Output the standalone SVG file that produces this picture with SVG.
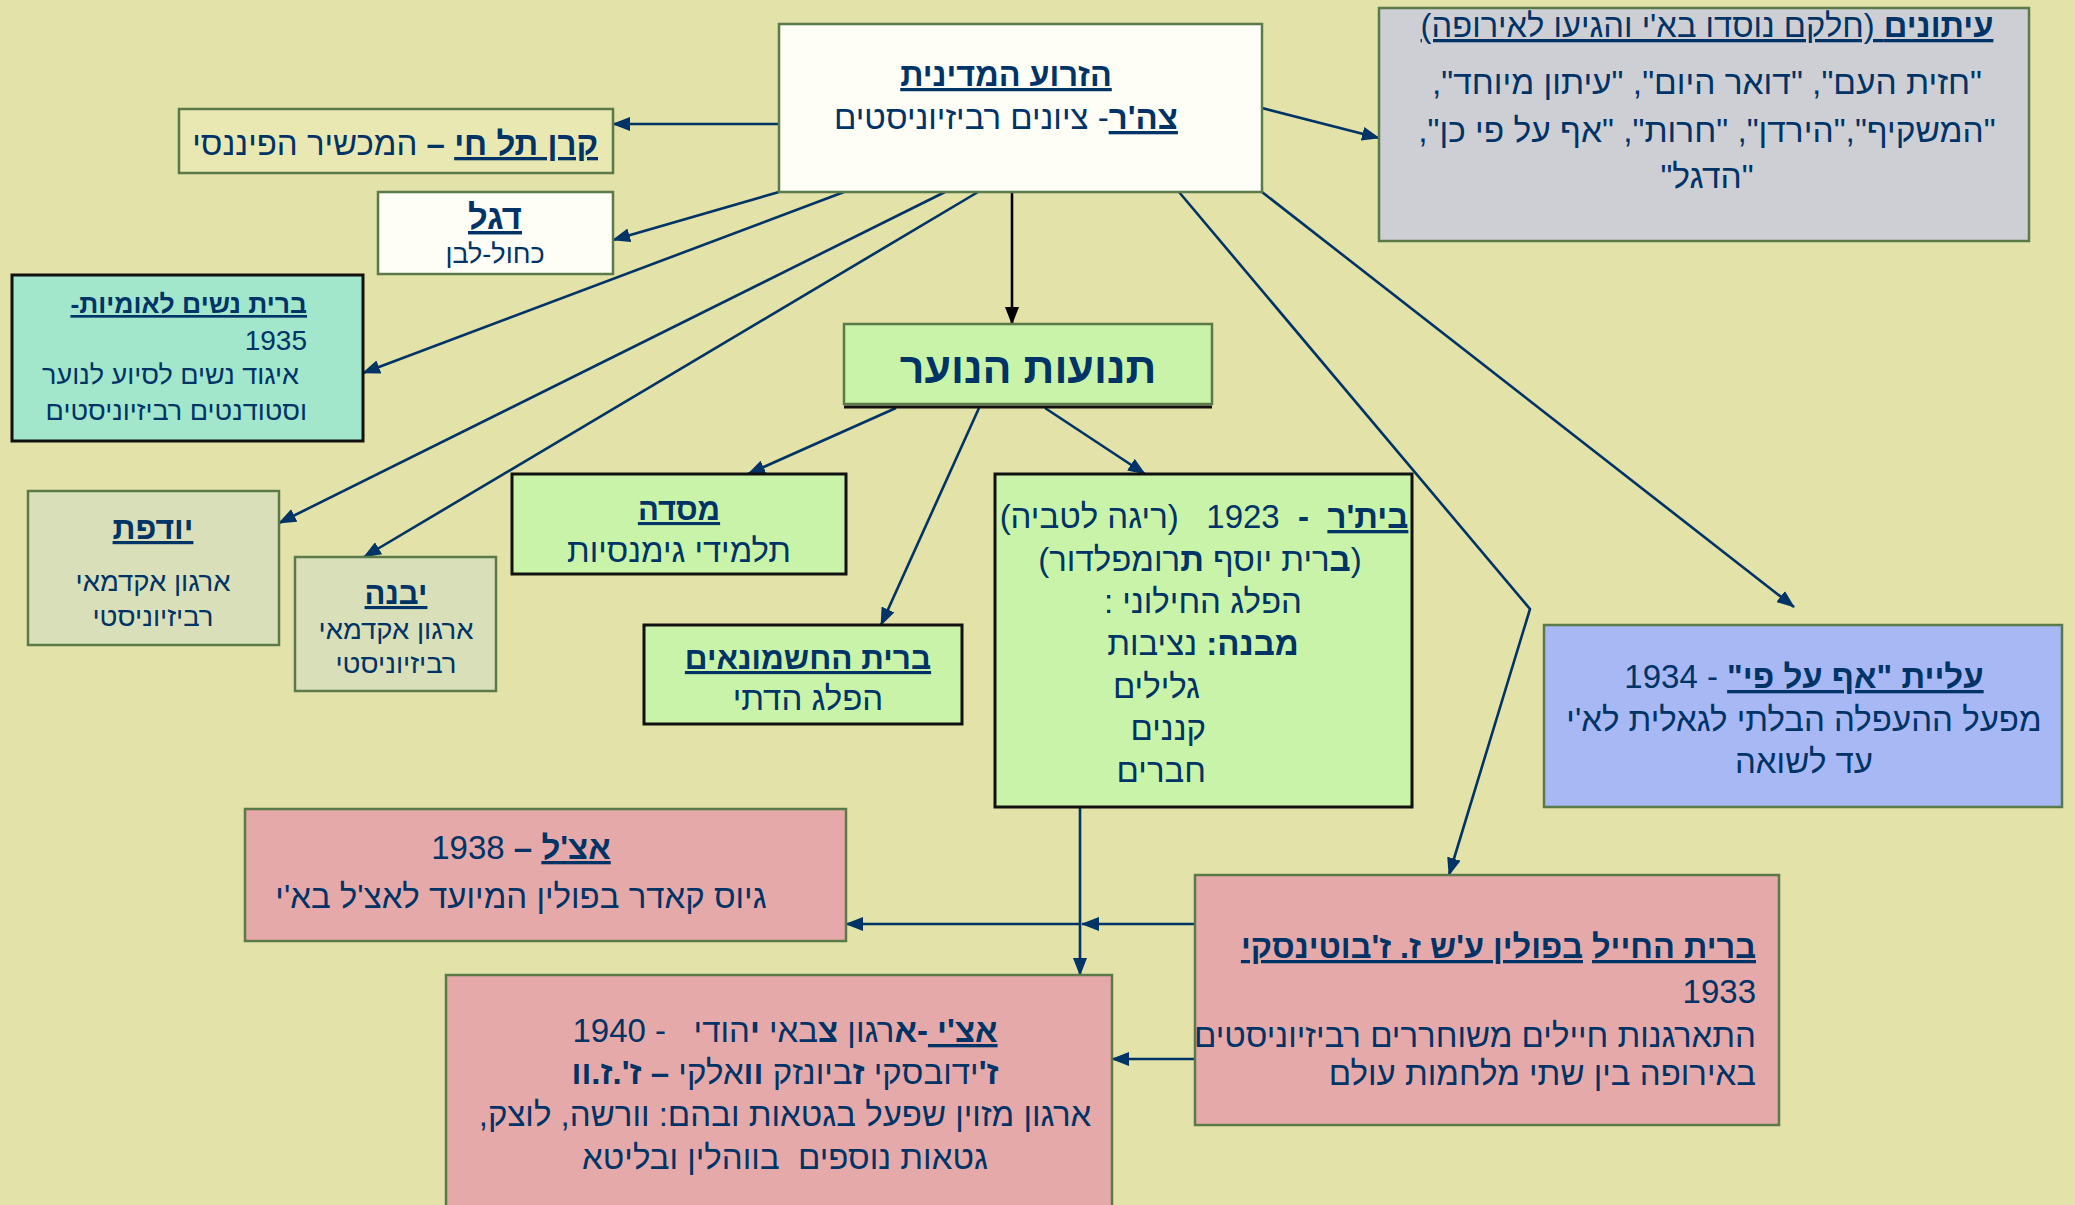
<svg xmlns="http://www.w3.org/2000/svg" width="2075" height="1205" viewBox="0 0 2075 1205">
<style>
text{font-family:"Liberation Sans","DejaVu Sans",sans-serif;fill:#003366;direction:rtl;font-size:33px}
.c{text-anchor:middle}
.r{text-anchor:start}
.b{font-weight:bold}
.u{text-decoration:underline}
.bu{font-weight:bold;text-decoration:underline}
.g{stroke:#5a7a4a;stroke-width:2.5}
.k{stroke:#111;stroke-width:3}
.ln{fill:none;stroke:#003366;stroke-width:2.6}
</style>
<defs>
<marker id="a" viewBox="0 0 18 14" refX="17" refY="7" markerWidth="18" markerHeight="14" orient="auto" markerUnits="userSpaceOnUse"><path d="M0,0 L18,7 L0,14 z" fill="#003366"/></marker>
<marker id="ak" viewBox="0 0 18 14" refX="17" refY="7" markerWidth="18" markerHeight="14" orient="auto" markerUnits="userSpaceOnUse"><path d="M0,0 L18,7 L0,14 z" fill="#000"/></marker>
</defs>
<rect width="2075" height="1205" fill="#e3e2a8"/>

<g id="connectors">
<line class="ln" x1="779" y1="124" x2="613" y2="124" marker-end="url(#a)"/>
<line class="ln" x1="779" y1="192" x2="613" y2="240" marker-end="url(#a)"/>
<line class="ln" x1="844" y1="192" x2="363" y2="373" marker-end="url(#a)"/>
<line class="ln" x1="945" y1="192" x2="279" y2="523" marker-end="url(#a)"/>
<line class="ln" x1="978" y1="192" x2="364" y2="557" marker-end="url(#a)"/>
<line x1="1012" y1="192" x2="1012" y2="324" stroke="#000" stroke-width="2.6" marker-end="url(#ak)"/>
<line class="ln" x1="1262" y1="108" x2="1379" y2="138" marker-end="url(#a)"/>
<line class="ln" x1="1262" y1="192" x2="1794" y2="607" marker-end="url(#a)"/>
<polyline class="ln" points="1179,192 1530,609 1449,875" marker-end="url(#a)"/>
<line class="ln" x1="896" y1="408" x2="748" y2="474" marker-end="url(#a)"/>
<line class="ln" x1="979" y1="408" x2="881" y2="625" marker-end="url(#a)"/>
<line class="ln" x1="1045" y1="408" x2="1145" y2="474" marker-end="url(#a)"/>
<line class="ln" x1="1080" y1="807" x2="1080" y2="975" marker-end="url(#a)"/>
<line class="ln" x1="1195" y1="924" x2="1082" y2="924" marker-end="url(#a)"/>
<line class="ln" x1="1080" y1="924" x2="846" y2="924" marker-end="url(#a)"/>
<line class="ln" x1="1195" y1="1059" x2="1112" y2="1059" marker-end="url(#a)"/>
</g>

<g id="n-zroa">
<rect class="g" x="779" y="24" width="483" height="168" fill="#fefef6"/>
<text class="c" x="1006" y="86" style="font-size:32.4px"><tspan class="bu">הזרוע המדינית</tspan></text>
<text class="c" x="1006" y="129"><tspan class="bu">צה'ר</tspan>- ציונים רביזיוניסטים</text>
</g>

<g id="n-itonim">
<rect class="g" x="1379" y="8" width="650" height="233" fill="#cdcfd4"/>
<text class="c u" x="1707" y="37" style="font-size:32.7px"><tspan class="b">עיתונים</tspan> (חלקם נוסדו בא'י והגיעו לאירופה)</text>
<text class="c" x="1707" y="94" style="font-size:33.5px">"חזית העם", "דואר היום", "עיתון מיוחד",</text>
<text class="c" x="1707" y="142" style="font-size:33.5px">"המשקיף","הירדן", "חרות", "אף על פי כן",</text>
<text class="c" x="1707" y="188" style="font-size:33.5px">"הדגל"</text>
</g>

<g id="n-keren">
<rect class="g" x="179" y="109" width="434" height="64" fill="#eae8b2"/>
<text class="r" x="598" y="155"><tspan class="bu">קרן תל חי</tspan><tspan class="b"> – </tspan>המכשיר הפיננסי</text>
</g>

<g id="n-degel">
<rect class="g" x="378" y="192" width="235" height="82" fill="#fefef6"/>
<text class="c" x="495" y="229" style="font-size:34.5px"><tspan class="bu">דגל</tspan></text>
<text class="c" x="495" y="263" style="font-size:27px">כחול-לבן</text>
</g>

<g id="n-nashim">
<rect class="k" x="12" y="275" width="351" height="166" fill="#a2e6cc"/>
<text class="r" x="307" y="313" style="font-size:26.5px"><tspan class="bu">ברית נשים לאומיות-</tspan></text>
<text class="r" x="307" y="350" style="font-size:28px">1935</text>
<text class="r" x="299" y="384" style="font-size:27px">איגוד נשים לסיוע לנוער</text>
<text class="r" x="307" y="420" style="font-size:27px">וסטודנטים רביזיוניסטים</text>
</g>

<g id="n-yodfat">
<rect class="g" x="28" y="491" width="251" height="154" fill="#d9e0b9"/>
<text class="c" x="153" y="539" style="font-size:32px"><tspan class="bu">יודפת</tspan></text>
<text class="c" x="153" y="591" style="font-size:27.5px">ארגון אקדמאי</text>
<text class="c" x="153" y="626" style="font-size:27.5px">רביזיוניסטי</text>
</g>

<g id="n-yavne">
<rect class="g" x="295" y="557" width="201" height="134" fill="#d9e0b9"/>
<text class="c" x="396" y="604" style="font-size:31px"><tspan class="bu">יבנה</tspan></text>
<text class="c" x="396" y="639" style="font-size:27.5px">ארגון אקדמאי</text>
<text class="c" x="396" y="673" style="font-size:27.5px">רביזיוניסטי</text>
</g>

<g id="n-tnuot">
<rect class="g" x="844" y="324" width="368" height="80" fill="#c9f3a8"/>
<line x1="844" y1="407" x2="1212" y2="407" stroke="#111" stroke-width="3"/>
<text class="c b" x="1028" y="383" style="font-size:43px">תנועות הנוער</text>
</g>

<g id="n-masada">
<rect class="k" x="512" y="474" width="334" height="100" fill="#c9f3a8"/>
<text class="c" x="679" y="520" style="font-size:31px"><tspan class="bu">מסדה</tspan></text>
<text class="c" x="679" y="562" style="font-size:32.8px">תלמידי גימנסיות</text>
</g>

<g id="n-hashmonaim">
<rect class="k" x="644" y="625" width="318" height="99" fill="#c9f3a8"/>
<text class="c" x="808" y="669" style="font-size:31.5px"><tspan class="bu">ברית החשמונאים</tspan></text>
<text class="c" x="808" y="710">הפלג הדתי</text>
</g>

<g id="n-beitar">
<rect class="k" x="995" y="474" width="417" height="333" fill="#c9f3a8"/>
<text class="c" x="1204" y="528"><tspan class="bu">בית'ר</tspan><tspan class="b">&#160; -&#160; </tspan>1923&#160;&#160; (ריגה לטביה)</text>
<text class="c" x="1200" y="571">(<tspan class="b">ב</tspan>רית יוסף <tspan class="b">ת</tspan>רומפלדור)</text>
<text class="c" x="1203" y="613">הפלג החילוני :</text>
<text class="c" x="1203" y="655"><tspan class="b">מבנה:</tspan> נציבות</text>
<text class="r" x="1200" y="698">גלילים</text>
<text class="r" x="1206" y="740">קננים</text>
<text class="r" x="1206" y="782">חברים</text>
</g>

<g id="n-aliya">
<rect class="g" x="1544" y="625" width="518" height="182" fill="#a8b8f5"/>
<text class="c" x="1804" y="688"><tspan class="bu">עליית "אף על פי"</tspan> - 1934</text>
<text class="c" x="1804" y="731">מפעל ההעפלה הבלתי לגאלית לא'י</text>
<text class="c" x="1804" y="773">עד לשואה</text>
</g>

<g id="n-etzel">
<rect class="g" x="245" y="809" width="601" height="132" fill="#e6a9a9"/>
<text class="c" x="521" y="859"><tspan class="bu">אצ'ל</tspan><tspan class="b"> – </tspan>1938</text>
<text class="c" x="521" y="908">גיוס קאדר בפולין המיועד לאצ'ל בא'י</text>
</g>

<g id="n-etzi">
<rect class="g" x="446" y="975" width="666" height="240" fill="#e6a9a9"/>
<text class="c" x="785" y="1042"><tspan class="bu">אצ'י </tspan><tspan class="b">-א</tspan>רגון <tspan class="b">צ</tspan>באי <tspan class="b">י</tspan>הודי&#160;&#160; - 1940</text>
<text class="c" x="785" y="1084"><tspan class="b">ז'</tspan>ידובסקי <tspan class="b">ז</tspan>ביונזק <tspan class="b">וו</tspan>אלקי <tspan class="b">– ז'.ז.וו</tspan></text>
<text class="c" x="785" y="1126">ארגון מזוין שפעל בגטאות ובהם: וורשה, לוצק,</text>
<text class="c" x="785" y="1169">גטאות נוספים&#160; בווהלין ובליטא</text>
</g>

<g id="n-brit-hahayal">
<rect class="g" x="1195" y="875" width="584" height="250" fill="#e6a9a9"/>
<text class="r" x="1756" y="958" style="font-size:32.5px"><tspan class="bu">ברית החייל</tspan> <tspan class="bu">בפולין ע'ש ז. ז'בוטינסקי</tspan></text>
<text class="r" x="1756" y="1003">1933</text>
<text class="r" x="1756" y="1047">התארגנות חיילים משוחררים רביזיוניסטים</text>
<text class="r" x="1756" y="1085">באירופה בין שתי מלחמות עולם</text>
</g>
</svg>
